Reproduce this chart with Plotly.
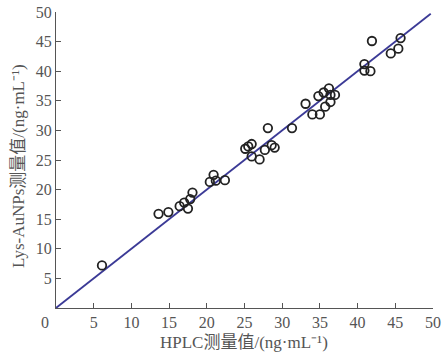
import plotly.graph_objects as go

hplc = [6.1, 13.6, 14.9, 16.4, 17.0, 17.5, 17.8, 18.1, 20.4, 20.9, 21.2, 22.4,
        25.1, 25.5, 25.95, 25.95, 27.0, 27.7, 28.1, 28.6, 29.0, 31.3,
        33.1, 34.0, 35.0, 34.8, 35.5, 36.2, 36.4, 37.0, 36.4, 35.7,
        40.9, 40.9, 41.7, 41.9, 44.4, 45.4, 45.7]
lys = [7.2, 15.9, 16.2, 17.2, 17.8, 16.8, 18.4, 19.5, 21.3, 22.5, 21.5, 21.6,
       26.9, 27.3, 27.7, 25.6, 25.1, 26.7, 30.4, 27.5, 27.1, 30.4,
       34.5, 32.7, 32.7, 35.8, 36.4, 37.1, 36.0, 36.0, 34.8, 34.0,
       41.2, 40.1, 40.0, 45.1, 43.0, 43.8, 45.6]
fit_x = [0, 49.7]
fit_y = [0, 49.7]
tick_vals = [5, 10, 15, 20, 25, 30, 35, 40, 45, 50]

W, H = 444, 357
ML, MR, MT, MB = 56, 11, 12, 49
pw = W - ML - MR
ph = H - MT - MB


def px(xi):
    return (xi - ML) / pw


def py(yi):
    return (H - yi - MB) / ph


fig = go.Figure()
fig.add_trace(go.Scatter(x=fit_x, y=fit_y, mode="lines",
                         line=dict(color="#3b3a96", width=1.8), showlegend=False))
fig.add_trace(go.Scatter(x=hplc, y=lys, mode="markers",
                         marker=dict(symbol="circle-open", size=8.5, color="#222",
                                     line=dict(width=1.8, color="#222")),
                         showlegend=False))

fam = "Liberation Serif, Noto Sans CJK SC"
font = dict(family=fam, size=16, color="#555")
tfont = dict(family=fam, size=17, color="#555")
axis_common = dict(range=[0, 50], tickvals=tick_vals, ticks="inside", ticklen=5,
                   tickcolor="#555", showline=True, linecolor="#555", linewidth=1,
                   showgrid=False, zeroline=False, tickfont=font, automargin=False,
                   ticklabeloverflow="allow")
fig.update_layout(
    width=W, height=H,
    margin=dict(l=ML, r=MR, t=MT, b=MB),
    paper_bgcolor="white", plot_bgcolor="white",
    xaxis=dict(**axis_common),
    yaxis=dict(**axis_common),
    annotations=[
        dict(text="0", x=0, y=0, xref="x", yref="y", xanchor="right", yanchor="top",
             xshift=-5, yshift=-4, showarrow=False, font=font),
        dict(text="HPLC测量值/(ng·mL⁻¹)", x=px(244), y=py(342), xref="paper", yref="paper",
             xanchor="center", yanchor="middle", showarrow=False, font=tfont),
        dict(text="Lys-AuNPs测量值/(ng·mL⁻¹)", x=px(18), y=py(166), xref="paper", yref="paper",
             xanchor="center", yanchor="middle", textangle=-90, showarrow=False, font=tfont),
    ],
)
fig.write_html("out.html", config={"displayModeBar": False},
               post_script="document.body.style.margin='0';")
